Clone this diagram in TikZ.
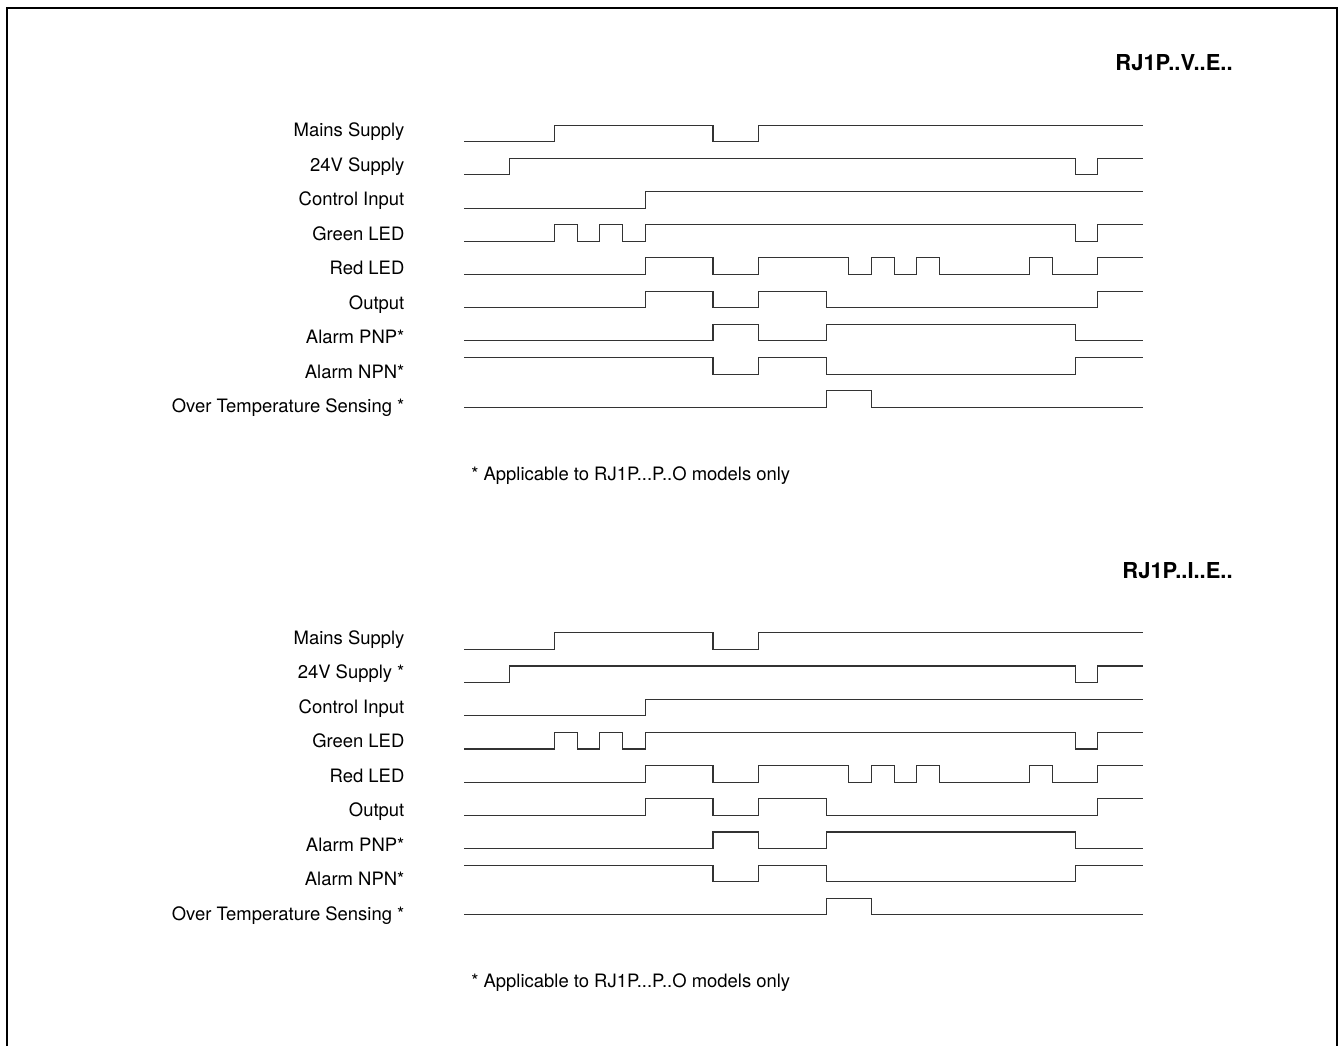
\documentclass[tikz,border=0pt]{standalone}
\usepackage{fontspec}
\setmainfont{TeX Gyre Heros}

% one signal: #1 row, #2 level at start, #3 list of time/level
\newcommand{\wave}[3]{%
  \draw[sig] (0,{#2-2*#1}) \foreach \t/\l in {#3} { -| (\t,{\l-2*#1}) };}

% one chart: #1 name, #2 vertical offset, #3 model, #4 24V label
\newcommand{\timingchart}[4]{%
  \node[modelname] (#1-model) at (1233,70.7+#2) {#3};
  \node[footnote] (#1-note) at (471,480+#2) {* Applicable to RJ1P...P..O models only};
  \begin{scope}[shift={(464,141.7+#2)}, x=0.4528cm, y=0.332cm]
    \foreach \txt [count=\i from 0] in {Mains Supply, #4, Control Input, Green LED,
        Red LED, Output, Alarm PNP*, Alarm NPN*, Over Temperature Sensing *}
      \node[siglabel] (#1-lbl\i) at (-2.62,{0.301-2.078*\i}) {\txt};
    \wave{0}{0}{4/1,11/0,13/1,30/1}
    \wave{1}{0}{2/1,27/0,28/1,30/1}
    \wave{2}{0}{8/1,30/1}
    \wave{3}{0}{4/1,5/0,6/1,7/0,8/1,27/0,28/1,30/1}
    \wave{4}{0}{8/1,11/0,13/1,17/0,18/1,19/0,20/1,21/0,25/1,26/0,28/1,30/1}
    \wave{5}{0}{8/1,11/0,13/1,16/0,28/1,30/1}
    \wave{6}{0}{11/1,13/0,16/1,27/0,30/0}
    \wave{7}{1}{11/0,13/1,16/0,27/1,30/1}
    \wave{8}{0}{16/1,18/0,30/0}
  \end{scope}}

\begin{document}
\begin{tikzpicture}[x=0.02cm, y=-0.02cm,
  sig/.style={line width=0.6pt, black!80},
  siglabel/.style={anchor=base east, inner sep=0pt, font=\fontsize{10.5}{12.6}\selectfont},
  footnote/.style={anchor=base west, inner sep=0pt, font=\fontsize{10.5}{12.6}\selectfont},
  modelname/.style={anchor=base east, inner sep=0pt, font=\fontsize{12.5}{15}\selectfont\bfseries}]
  \useasboundingbox (0,0) rectangle (1341,1046);
  % frame, open at the bottom
  \draw[line width=1.4pt] (7,1046) -- (7,8) -- (1337,8) -- (1337,1046);
  \timingchart{v}{0}{RJ1P..V..E..}{24V Supply}
  \timingchart{i}{507.7}{RJ1P..I..E..}{24V Supply *}
\end{tikzpicture}
\end{document}
